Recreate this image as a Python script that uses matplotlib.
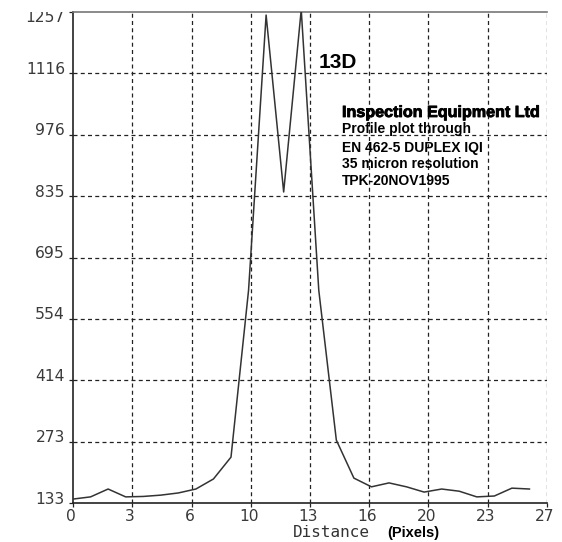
import matplotlib
matplotlib.use("Agg")
import matplotlib.pyplot as plt
import matplotlib.transforms as mtransforms
import matplotlib.patheffects as pe
import numpy as np

# ---- data ----
distance = list(range(27))
intensity = [142, 147, 165, 147, 148, 151, 156, 165, 188, 238,
             620, 1250, 845, 1262, 620, 277, 190, 170, 179, 170,
             158, 165, 160, 147, 149, 167, 165]
x_tick_labels = ["0", "3", "6", "10", "13", "16", "20", "23", "27"]
y_tick_labels = ["133", "273", "414", "554", "695", "835", "976", "1116", "1257"]
x_range = (0, 27)
y_range = (133, 1257)

W, H = 562, 542
fig = plt.figure(figsize=(W / 100, H / 100), dpi=100)
fig.patch.set_facecolor("white")
ax = fig.add_axes([73 / W, 1 - 503 / H, (547 - 73) / W, (503 - 12) / H])
ax.set_xlim(*x_range)
ax.set_ylim(*y_range)

n = len(x_tick_labels) - 1
xt = [x_range[0] + (x_range[1] - x_range[0]) * i / n for i in range(n + 1)]
yt = [y_range[0] + (y_range[1] - y_range[0]) * i / n for i in range(n + 1)]

grid_kw = dict(color="#222222", linewidth=0.9, linestyle=(0, (3.2, 2.6)), zorder=1)
for v in xt[1:]:
    ax.axvline(v, **grid_kw)
for v in yt[1:-1]:
    ax.axhline(v, **grid_kw)

ax.plot(distance, intensity, color="#333333", linewidth=1.1, zorder=3)

ax.spines["right"].set_visible(False)
ax.spines["top"].set_color("#777777")
ax.spines["top"].set_linewidth(1.2)
for s in ["left", "bottom"]:
    ax.spines[s].set_color("#222222")
    ax.spines[s].set_linewidth(1.2)

ax.set_xticks(xt)
ax.set_yticks(yt)
ax.set_xticklabels([])
ax.set_yticklabels([])
ax.tick_params(axis="both", length=3, width=0.9, color="#222222", direction="out")

lab_kw = dict(fontsize=11.2, color="#3a3a3a", family="DejaVu Sans")
clipbox = mtransforms.Bbox.from_extents(0, 0, W, H - 12)
for i, (v, lab) in enumerate(zip(yt, y_tick_labels)):
    dy = 4 if i < n else -5
    tr = mtransforms.offset_copy(ax.get_yaxis_transform(), fig=fig, x=-8, y=dy, units="dots")
    t = ax.text(0, v, lab, transform=tr, ha="right", va="center", clip_on=False, **lab_kw)
    if i == n:
        t.set_clip_box(clipbox)
        t.set_clip_on(True)
for v, lab in zip(xt, x_tick_labels):
    tr = mtransforms.offset_copy(ax.get_xaxis_transform(), fig=fig, x=-2, y=-6, units="dots")
    ax.text(v, 0, lab, transform=tr, ha="center", va="top", clip_on=False, **lab_kw)

# axis title
fig.text(293 / W, 1 - 537 / H, "Distance", family="DejaVu Sans Mono", fontsize=11.5,
         color="#333333", ha="left", va="baseline")
fig.text(387 / W, 1 - 537 / H, "(Pixels)", family="Liberation Sans", fontweight="bold",
         fontsize=10.5, color="black", ha="left", va="baseline")

# annotations
fig.text(319 / W, 1 - 68 / H, "13D", family="Liberation Sans", fontweight="bold",
         fontsize=15, color="black", ha="left", va="baseline")
fig.text(342 / W, 1 - 117 / H, "Inspection Equipment Ltd", family="Liberation Sans",
         fontweight="bold", fontsize=11.6, color="black", ha="left", va="baseline",
         path_effects=[pe.withStroke(linewidth=0.6, foreground="black")])
lines = ["Profile plot through", "EN 462-5 DUPLEX IQI", "35 micron resolution", "TPK-20NOV1995"]
baselines = [133, 152, 168, 185]
for txt, b in zip(lines, baselines):
    fig.text(342 / W, 1 - b / H, txt, family="Liberation Sans", fontweight="bold",
             fontsize=10, color="black", ha="left", va="baseline")

fig.savefig("out.png", dpi=100, facecolor="white")
